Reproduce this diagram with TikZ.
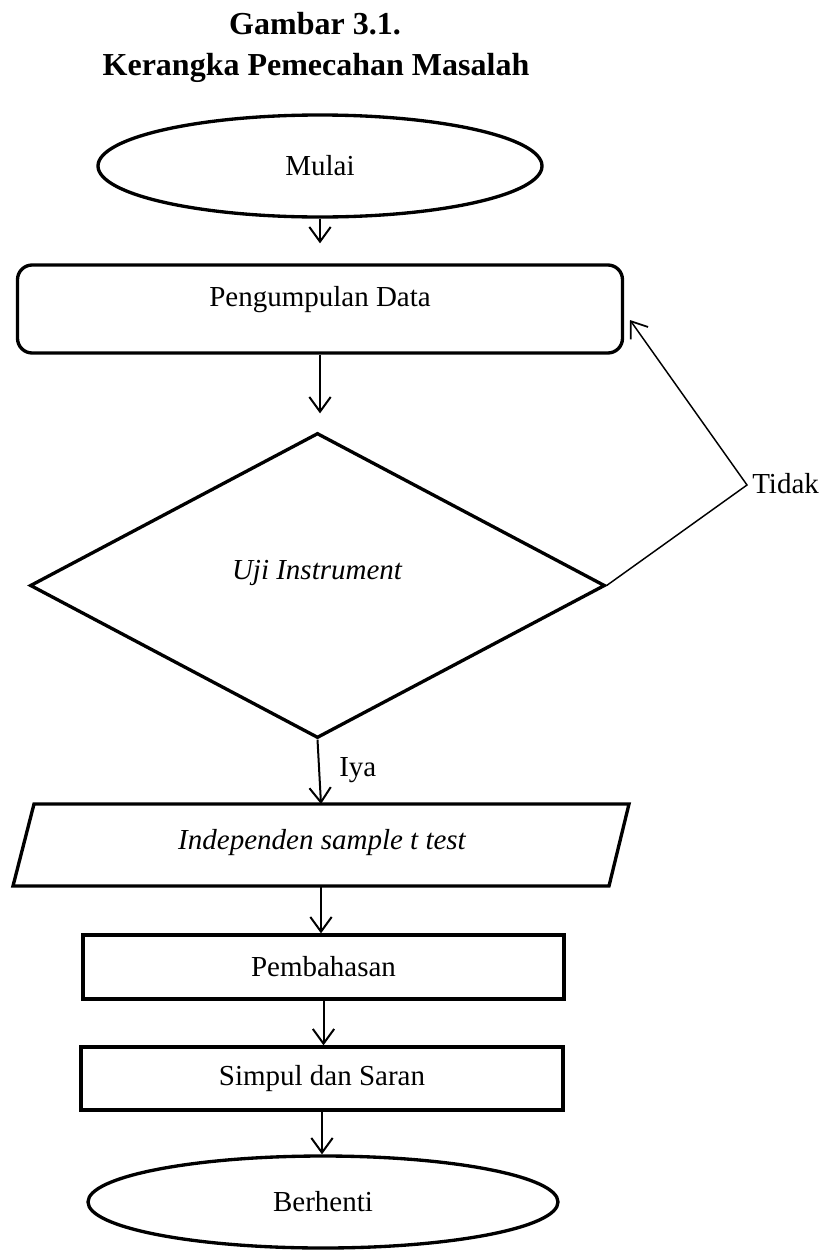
\documentclass[tikz,border=0pt]{standalone}
\usepackage{fontspec}
\setmainfont{Liberation Serif}
\usetikzlibrary{shapes.geometric,arrows.meta,calc}
\begin{document}
\begin{tikzpicture}[x=0.75pt,y=-0.75pt,
  shapeline/.style={draw=black,line width=2.5pt},
  txt/.style={font=\fontsize{21.75}{26}\selectfont,inner sep=0pt},
  txti/.style={font=\fontsize{21.75}{26}\selectfont\itshape,inner sep=0pt},
  ttl/.style={font=\fontsize{24}{28}\selectfont\bfseries,inner sep=0pt,anchor=base},
  flow/.style={line width=1.5pt,-{Straight Barb[length=11pt,width=16pt,line width=1.5pt]}},
  backflow/.style={line width=1.1pt,-{Straight Barb[length=11pt,width=16pt,line width=1.3pt]}}]
\useasboundingbox (0,0) rectangle (830,1250);
% title
\node[ttl] (t1) at (315,34) {Gambar 3.1.};
\node[ttl] (t2) at (316,75) {Kerangka Pemecahan Masalah};
% shapes
\node[shapeline,ellipse,minimum width=333pt,minimum height=76.5pt,inner sep=0pt,txt] (mulai) at (320,166) {Mulai};
\node[shapeline,rectangle,rounded corners=11pt,minimum width=453.75pt,minimum height=66pt,inner sep=0pt] (peng) at (320,309) {};
\node[txt] (pengt) at (320,300) {Pengumpulan Data};
\node[shapeline,diamond,minimum width=431.25pt,minimum height=228.75pt,inner sep=0pt] (dec) at (317.5,585.5) {};
\node[txti] (dect) at (317,573) {Uji Instrument};
\node[rectangle,minimum width=462pt,minimum height=61.5pt,inner sep=0pt,outer sep=0pt] (indep) at (321,845) {};
\draw[line width=2.5pt,line join=miter] ($(indep.north west)+(21,0)$) -- (indep.north east) -- ($(indep.south east)+(-20,0)$) -- (indep.south west) -- cycle;
\node[txti] (indept) at (322,843) {Independen sample t test};
\node[shapeline,rectangle,minimum width=360.75pt,minimum height=48pt,txt] (pemb) at (323.5,967) {Pembahasan};
\node[shapeline,rectangle,minimum width=361.5pt,minimum height=47.25pt,txt] (simp) at (322,1078.5) {Simpul dan Saran};
\node[shapeline,ellipse,minimum width=352.5pt,minimum height=69pt,inner sep=0pt,txt] (stop) at (323,1202) {Berhenti};
% connectors
\draw[flow,shorten >=15pt] (mulai.south) -- (mulai.south |- peng.north);
\draw[flow,shorten >=13.5pt] (peng.south) -- (peng.south |- dec.north);
\draw[flow] (dec.south) -- (indep.north);
\draw[flow] (indep.south) -- (indep.south |- pemb.north);
\draw[flow] (pemb.south) -- (pemb.south |- simp.north);
\draw[flow] (simp.south) -- (simp.south |- stop.north);
\coordinate (tk) at (747,485);
\coordinate (pe) at (630,320);
\draw[backflow] (dec.east) -- (tk) -- (pe);
\node[txt,anchor=base west] (tidak) at (752,493) {Tidak};
\node[txt,anchor=base west] (iya) at (339,776) {Iya};
\end{tikzpicture}
\end{document}
